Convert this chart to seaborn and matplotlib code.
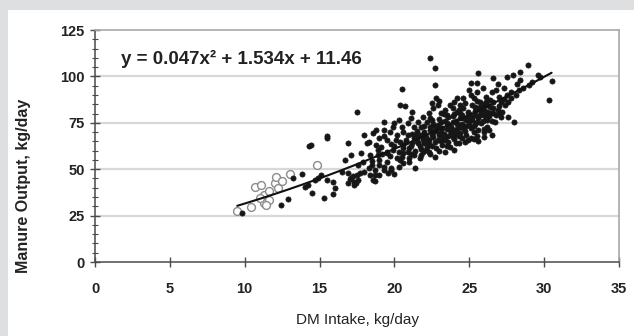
import numpy as np
import pandas as pd
import matplotlib
matplotlib.use("Agg")
import matplotlib.pyplot as plt
from matplotlib.ticker import MultipleLocator
from matplotlib.patches import Rectangle
import seaborn as sns

# ---------------- data ----------------
# filled points: DM intake (kg/day) and manure output (kg/day)
dmi_filled = [
    9.8, 12.4, 12.9, 13.2, 13.8, 14.2, 14.5, 14.3, 14.4, 15.5, 15.5, 15.3, 15.9, 15.5,
    15.1, 15.9, 14.9, 16.7, 17.1, 16.9, 17.5, 16.9, 17.1, 17.3, 17.4, 17.0, 17.2, 17.5,
    17.3, 16.9, 17.6, 17.7, 17.8, 17.6, 14.0, 14.7, 16.0, 16.5,
    18.0, 18.3, 18.0, 18.4, 18.6, 18.7, 19.0, 19.3, 19.6, 19.8, 20.3, 20.4, 18.9, 19.5,
    20.6, 18.6, 18.8, 19.0, 19.5, 20.2, 20.4, 19.9, 19.5, 18.9, 18.4, 17.9, 18.5, 19.0,
    19.5, 19.8, 19.3, 18.7, 18.7, 20.2, 20.6, 21.0, 21.3, 19.3, 19.3, 19.9, 19.7, 20.4,
    20.7, 21.2, 20.5, 20.6, 20.9, 20.8, 21.0, 21.4, 20.6, 20.5, 21.0, 21.7, 18.2, 19.1,
    20.0, 19.2, 18.5, 20.9, 20.0, 19.0, 18.3,
    21.6, 21.9, 22.2, 22.5, 22.7, 23.1, 23.3, 23.7, 23.9, 24.3, 24.4, 24.8, 25.1, 25.4,
    25.5, 24.4, 23.9, 23.5, 23.1, 22.7, 22.4, 22.0, 21.7, 21.3, 21.8, 22.3, 22.8, 23.2,
    23.6, 24.1, 24.5, 24.8, 25.3, 25.6, 25.8, 26.1, 26.4, 26.7, 27.1, 26.2, 25.7, 25.4,
    24.9, 24.7, 25.2, 24.4, 23.9, 23.4, 22.4, 21.9, 22.8, 22.9, 24.2, 24.6, 25.1, 25.9,
    26.1, 26.5, 26.8, 27.3, 27.5, 27.8, 27.1, 27.4, 27.6, 28.0, 26.5, 26.3, 26.8, 26.6,
    26.2, 25.7, 25.5, 25.3, 24.6, 24.2, 23.7, 23.5, 23.1, 22.6, 22.3, 22.2, 21.8, 21.6,
    21.3, 22.4, 22.7, 22.7, 28.9, 25.6, 30.3, 30.5, 29.7, 28.4, 27.9, 28.4, 27.5, 26.6,
    26.9, 25.1, 25.5, 25.0, 24.0, 23.0, 22.5, 27.0, 28.2, 29.2, 29.6, 26.4,
    21.1, 21.4, 21.5, 21.8, 22.0, 22.1, 22.3, 22.5, 22.6, 22.9, 23.0, 23.2, 23.3, 23.4,
    23.5, 23.6, 23.8, 23.9, 24.0, 24.1, 24.2, 24.3, 24.5, 24.6, 24.7, 24.9, 25.0, 25.2,
    25.3, 25.4, 25.6, 25.7, 25.8, 25.9, 26.0, 26.1, 26.3, 26.4, 26.5, 26.6, 26.9, 27.0,
    27.2, 27.3, 27.6, 27.8, 28.1, 28.3, 28.6, 29.0, 23.0, 23.6, 24.0, 24.4, 22.6, 22.0,
    21.5, 21.2, 20.8, 20.6, 21.9, 22.4, 23.0, 23.7, 24.3, 24.9, 25.5, 26.0, 26.2, 25.1,
    24.0, 22.7, 23.4, 25.6, 26.0, 21.1, 20.3, 19.7, 19.8, 20.1, 20.5, 20.9, 21.1, 19.3,
    18.8, 20.0, 20.3, 26.0,
]
manure_filled = [
    26.4, 30.8, 33.8, 45.0, 47.6, 41.3, 37.3, 62.3, 63.2, 67.0, 68.0, 34.3, 36.8, 44.2,
    46.9, 43.3, 45.0, 55.0, 57.6, 63.9, 81.0, 47.8, 45.1, 43.3, 42.4, 44.5, 46.5, 46.9,
    41.6, 42.8, 44.0, 48.2, 58.6, 52.0, 40.2, 44.0, 40.0, 48.5,
    68.4, 64.8, 48.7, 46.9, 44.2, 49.6, 55.0, 51.3, 47.8, 49.6, 51.3, 55.0, 60.3, 58.6,
    61.3, 69.3, 63.0, 66.6, 65.7, 68.4, 64.8, 60.3, 59.4, 57.6, 57.6, 54.0, 52.2, 52.2,
    54.0, 50.4, 49.5, 46.8, 43.6, 55.8, 58.5, 61.2, 57.6, 75.6, 71.1, 72.9, 70.2, 84.6,
    84.2, 80.6, 93.2, 70.2, 68.4, 64.8, 54.0, 50.4, 53.2, 56.7, 55.8, 55.8, 63.9, 62.0,
    62.5, 58.0, 54.5, 59.0, 47.5, 47.0, 50.5,
    63.9, 66.6, 62.1, 68.4, 64.8, 70.2, 66.6, 71.1, 67.5, 73.8, 69.3, 76.5, 72.0, 79.2,
    75.6, 77.4, 75.6, 74.7, 75.6, 72.9, 71.1, 70.2, 68.4, 66.6, 57.6, 59.4, 61.2, 63.0,
    64.8, 63.9, 66.6, 68.4, 70.2, 71.1, 74.7, 77.4, 80.1, 75.6, 78.3, 81.0, 81.9, 83.7,
    81.0, 85.5, 84.6, 84.6, 82.8, 81.9, 77.4, 78.3, 88.2, 84.6, 88.2, 88.5, 90.0, 93.5,
    89.0, 91.7, 92.6, 93.5, 90.0, 91.7, 86.4, 84.6, 78.3, 75.6, 68.4, 71.1, 79.2, 82.8,
    84.6, 86.4, 91.7, 88.2, 82.8, 81.0, 84.6, 79.2, 80.1, 82.8, 80.1, 75.6, 72.9, 75.6,
    72.9, 109.7, 104.3, 95.3, 106.1, 102.0, 87.3, 97.5, 99.8, 102.5, 100.7, 98.0, 99.8, 98.9,
    95.7, 96.2, 96.2, 92.5, 86.0, 87.0, 85.5, 89.0, 96.0, 97.0, 101.0, 87.5,
    62.5, 60.0, 65.0, 61.0, 64.0, 67.5, 65.5, 62.5, 70.0, 66.0, 68.5, 72.0, 69.0, 65.5,
    71.5, 68.0, 73.0, 70.0, 66.5, 76.0, 71.5, 67.8, 74.5, 72.0, 70.5, 78.5, 74.0, 76.5,
    73.5, 81.5, 77.5, 79.0, 84.0, 76.0, 82.0, 86.0, 78.5, 83.5, 76.0, 86.0, 82.0, 84.0,
    81.0, 88.0, 86.0, 88.5, 90.0, 92.5, 94.0, 95.5, 77.0, 78.0, 79.5, 80.5, 74.5, 73.5,
    70.5, 69.0, 66.0, 63.0, 59.0, 58.0, 60.0, 62.0, 64.0, 66.0, 68.0, 70.0, 73.0, 67.0,
    60.5, 56.5, 59.0, 65.0, 67.5, 58.0, 59.5, 57.0, 63.5, 66.0, 72.5, 75.0, 77.5, 68.0,
    71.0, 75.0, 76.5, 71.5,
]
# extra points in the densest part of the cloud
dmi_dense = [
    21.2, 21.5, 21.7, 22.0, 22.2, 22.4, 22.6, 22.8, 23.0, 23.2, 23.4, 23.6, 23.8, 24.0,
    24.2, 24.4, 24.6, 24.8, 25.0, 25.2, 25.4, 25.6, 25.8, 26.0, 26.2, 21.4, 21.9, 22.3,
    22.9, 23.3, 23.9, 24.5, 25.0, 25.5, 26.0, 26.6, 27.0, 24.1, 23.5, 22.1, 24.7, 25.3,
    22.5, 23.1, 24.3,
]
manure_dense = [
    64.0, 67.0, 62.5, 69.0, 66.0, 73.0, 67.5, 70.5, 72.5, 68.0, 76.0, 74.0, 69.5, 71.0,
    74.5, 72.5, 77.5, 73.5, 80.0, 78.0, 74.5, 83.0, 80.0, 79.0, 76.5, 68.5, 65.5, 63.5,
    74.0, 79.5, 78.5, 79.0, 76.0, 87.0, 85.0, 80.5, 80.0, 69.0, 62.5, 60.5, 64.5, 66.5,
    76.5, 65.0, 82.0,
]
# open circles
dmi_open = [9.5, 10.4, 10.7, 11.3, 11.3, 11.6, 12.0, 12.1, 11.1, 11.0, 11.6, 13.0,
            12.2, 14.8, 11.4, 12.5]
manure_open = [27.3, 29.8, 40.5, 31.6, 36.1, 38.5, 42.4, 45.8, 41.5, 34.3, 33.4, 47.4,
               39.7, 52.3, 30.6, 43.5]

# trendline shown on the chart: y = 0.047x^2 + 1.534x + 11.46
trend_coef = [0.047, 1.534, 11.46]
trend_range = [9.5, 30.5]
equation_label = "y = 0.047x\u00b2 + 1.534x + 11.46"

x_ticks = [0, 5, 10, 15, 20, 25, 30, 35]
y_ticks = [0, 25, 50, 75, 100, 125]
x_label = "DM Intake, kg/day"
y_label = "Manure Output, kg/day"

# ---------------- figure ----------------
sns.set_theme(style="white")
plt.rcParams["font.family"] = ["Liberation Sans", "DejaVu Sans"]

W, H = 634, 336
fig = plt.figure(figsize=(W / 100, H / 100), dpi=100)
fig.patch.set_facecolor("#dedfe0")
fig.patches.append(Rectangle((8 / W, 0), 1, 1 - 10 / H, transform=fig.transFigure,
                             facecolor="white", edgecolor="none", zorder=-5))

ax = fig.add_axes([95 / W, 1 - 262 / H, (619 - 95) / W, (262 - 30) / H])
ax.set_zorder(2)
ax.set_facecolor("white")

df_f = pd.DataFrame({"dmi": dmi_filled + dmi_dense,
                     "manure": manure_filled + manure_dense})
df_o = pd.DataFrame({"dmi": dmi_open, "manure": manure_open})
xs = np.linspace(trend_range[0], trend_range[1], 100)
df_t = pd.DataFrame({"dmi": xs, "manure": np.polyval(trend_coef, xs)})

for yv in y_ticks[1:-1]:
    ax.axhline(yv, color="#d8d8d8", lw=1.6, zorder=0)

sns.scatterplot(data=df_o, x="dmi", y="manure", ax=ax, s=32, marker="o",
                facecolor="white", edgecolor="#8c8c8c", linewidth=1.0, zorder=2)
sns.scatterplot(data=df_f, x="dmi", y="manure", ax=ax, s=14, marker="o",
                color="#161616", edgecolor="#161616", linewidth=0.5, zorder=3)
sns.lineplot(data=df_t, x="dmi", y="manure", ax=ax, color="#111111", lw=1.5, zorder=4)

ax.set_xlim(0, 35)
ax.set_ylim(0, 125)
ax.set_xticks(x_ticks)
ax.set_yticks(y_ticks)
ax.yaxis.set_minor_locator(MultipleLocator(5))

for side in ["top", "right"]:
    ax.spines[side].set_color("#a8a8a8")
    ax.spines[side].set_linewidth(1.2)
for side in ["left", "bottom"]:
    ax.spines[side].set_color("#4a4a4a")
    ax.spines[side].set_linewidth(1.1)

ax.tick_params(axis="both", which="major", direction="inout", length=7, width=1,
               color="#4a4a4a", labelsize=10.5, labelcolor="#222222",
               left=True, bottom=True)
ax.tick_params(axis="y", which="minor", direction="inout", length=4, width=0.8,
               color="#4a4a4a", left=True)
ax.tick_params(axis="y", which="major", pad=4)
ax.tick_params(axis="x", which="major", pad=11)
for lbl in ax.get_xticklabels() + ax.get_yticklabels():
    lbl.set_fontweight("bold")

ax.set_xlabel(x_label, fontsize=11, color="#222222", labelpad=12)
ax.set_ylabel(y_label, fontsize=11.5, fontweight="bold", color="#222222")
ax.yaxis.set_label_coords(-0.122, 0.33)

ax.text(0.05, 0.875, equation_label, transform=ax.transAxes, ha="left", va="center",
        fontsize=13.5, fontweight="bold", color="#222222")

fig.savefig("out.png", dpi=100, facecolor=fig.get_facecolor())
